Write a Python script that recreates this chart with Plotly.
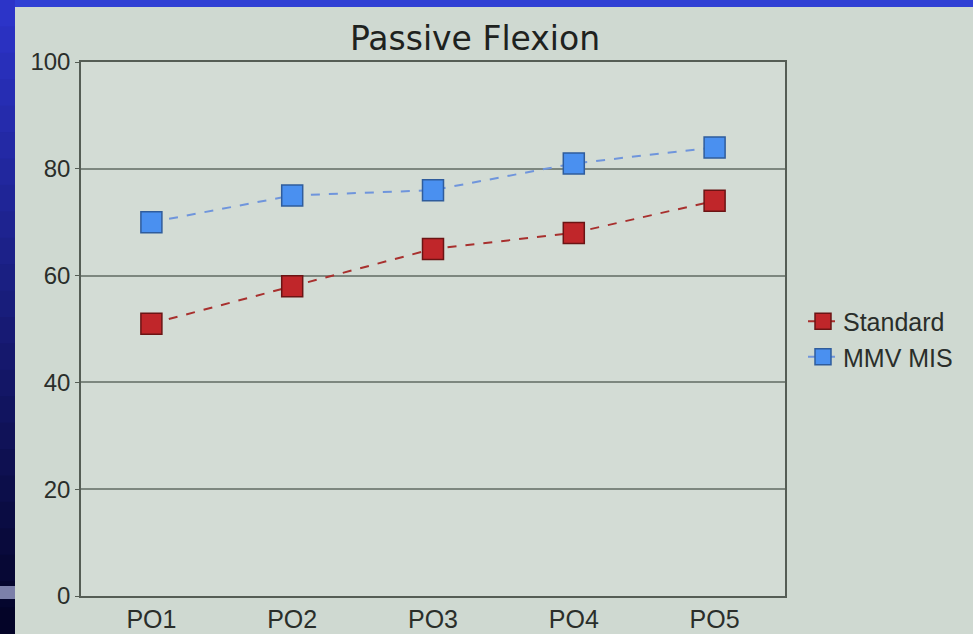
import plotly.graph_objects as go

categories = ["PO1", "PO2", "PO3", "PO4", "PO5"]
standard = [51, 58, 65, 68, 74]
mmv_mis = [70, 75, 76, 81, 84]
y_ticks = [0, 20, 40, 60, 80, 100]

W, H = 973, 634
L, R, T, B = 81, 188, 62, 38
pw, ph = W - L - R, H - T - B

def px_x(p):
    return (p - L) / pw

def px_y(p):
    return (H - B - p) / ph

fig = go.Figure()
fig.add_trace(go.Scatter(
    x=categories, y=standard, name="Standard", mode="lines+markers",
    line=dict(color="#a8302e", width=2, dash="dash"),
    marker=dict(symbol="square", size=21, color="#c0262a",
                line=dict(color="#6b1414", width=1.5)),
))
fig.add_trace(go.Scatter(
    x=categories, y=mmv_mis, name="MMV MIS", mode="lines+markers",
    line=dict(color="#6f95dc", width=2, dash="dash"),
    marker=dict(symbol="square", size=21, color="#4a90f0",
                line=dict(color="#2f5c9c", width=1.5)),
))

shapes = []
# top blue strip
shapes.append(dict(type="rect", xref="paper", yref="paper",
                   x0=px_x(0), x1=px_x(W), y0=px_y(7), y1=px_y(-2),
                   fillcolor="#3040d4", line=dict(width=0), layer="above"))
# left gradient strip
top_rgb = (44, 52, 200)
bot_rgb = (4, 4, 40)
n = 24
for i in range(n):
    t = i / (n - 1)
    c = tuple(int(top_rgb[k] + (bot_rgb[k] - top_rgb[k]) * t) for k in range(3))
    y0 = i * H / n
    y1 = (i + 1) * H / n + 1
    shapes.append(dict(type="rect", xref="paper", yref="paper",
                       x0=px_x(-2), x1=px_x(15), y0=px_y(y1), y1=px_y(y0),
                       fillcolor="rgb(%d,%d,%d)" % c, line=dict(width=0), layer="above"))
shapes.append(dict(type="rect", xref="paper", yref="paper",
                   x0=px_x(-2), x1=px_x(15), y0=px_y(599), y1=px_y(586),
                   fillcolor="#7c80aa", line=dict(width=0), layer="above"))

fig.update_layout(
    width=W, height=H,
    margin=dict(l=L, r=R, t=T, b=B),
    paper_bgcolor="#cfd9d1",
    plot_bgcolor="#d3dcd5",
    font=dict(family="Liberation Sans, Arial, sans-serif", color="#2a2e2a"),
    title=dict(text="Passive Flexion", x=px_x(475), xref="paper",
               y=1 - 38 / H, yanchor="middle", xanchor="center",
               font=dict(family="DejaVu Sans", size=33, color="#1e221e")),
    xaxis=dict(type="category", range=[-0.5, 4.5], showgrid=False,
               showline=True, linecolor="#555d55", linewidth=1.5, mirror=True,
               ticks="", tickfont=dict(size=25, color="#2a2e2a"),
               automargin=False),
    yaxis=dict(range=[0, 100], tickvals=y_ticks, showgrid=True,
               gridcolor="#7d877f", gridwidth=1.5, zeroline=False,
               showline=True, linecolor="#555d55", linewidth=1.5, mirror=True,
               ticks="outside", ticklen=4, tickcolor="#555d55",
               tickfont=dict(size=24, color="#2a2e2a"), automargin=False),
    legend=dict(x=px_x(803), y=px_y(339), xanchor="left", yanchor="middle",
                bgcolor="rgba(0,0,0,0)", font=dict(size=25, color="#2a2e2a"),
                itemwidth=30, tracegroupgap=0),
    shapes=shapes,
    showlegend=True,
)

fig.write_html(
    "out.html",
    config={"displayModeBar": False},
    post_script="document.body.style.margin='0';document.body.style.overflow='hidden';",
)
